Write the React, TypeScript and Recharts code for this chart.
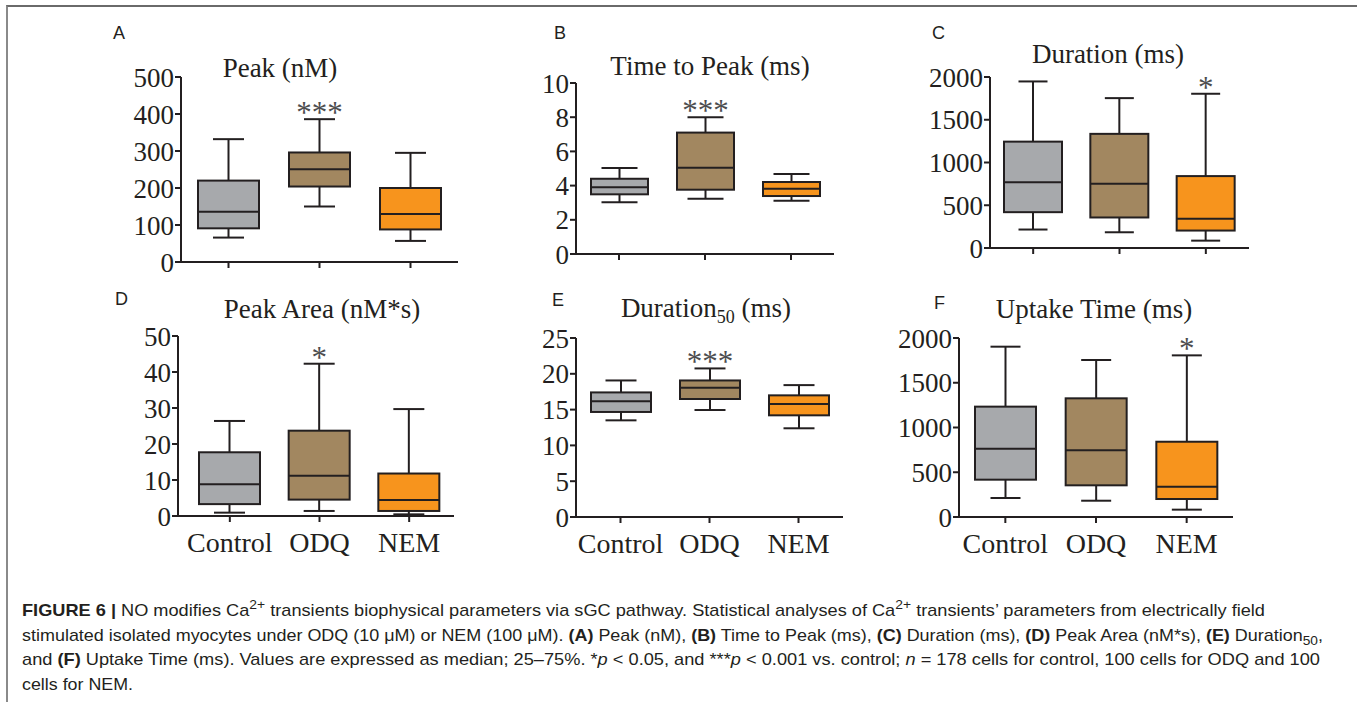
import { BarChart, Bar, XAxis, YAxis } from 'recharts';

const categories = ['Control', 'ODQ', 'NEM'];

// five-number summaries per group: [min, q1, median, q3, max]
const peakStats = [[66, 91, 136, 220, 332], [150, 204, 251, 296, 386], [57, 88, 130, 200, 295]];
const timeToPeakStats = [[3.03, 3.49, 3.91, 4.4, 5.03], [3.23, 3.76, 5.05, 7.1, 8.0], [3.11, 3.39, 3.82, 4.21, 4.68]];
const durationStats = [[216, 419, 768, 1244, 1948], [184, 357, 751, 1335, 1753], [86, 204, 341, 841, 1804]];
const peakAreaStats = [[0.93, 3.3, 8.8, 17.7, 26.4], [1.4, 4.55, 11.2, 23.7, 42.3], [0.46, 1.4, 4.45, 11.8, 29.7]];
const duration50Stats = [[13.5, 14.67, 16.15, 17.4, 19.07], [14.94, 16.48, 18.05, 19.07, 20.75], [12.39, 14.2, 15.78, 16.99, 18.42]];
const uptakeStats = [[212, 417, 763, 1233, 1903], [182, 354, 745, 1326, 1754], [82, 201, 339, 841, 1806]];

const peakSig = ['', '***', ''];
const timeToPeakSig = ['', '***', ''];
const durationSig = ['', '', '*'];
const peakAreaSig = ['', '*', ''];
const duration50Sig = ['', '***', ''];
const uptakeSig = ['', '', '*'];

const peakTicks = [0, 100, 200, 300, 400, 500];
const timeToPeakTicks = [0, 2, 4, 6, 8, 10];
const durationTicks = [0, 500, 1000, 1500, 2000];
const peakAreaTicks = [0, 10, 20, 30, 40, 50];
const duration50Ticks = [0, 5, 10, 15, 20, 25];
const uptakeTicks = [0, 500, 1000, 1500, 2000];

const boxColors = ['#A7A9AC', '#A28760', '#F7941D'];
const ink = '#231f20';
const serif = '"Liberation Serif", "Times New Roman", serif';
const sans = '"Liberation Sans", Arial, Helvetica, sans-serif';

const Y_W = 70;
const M_TOP = 20;

const buildRows = (stats: number[][], sig: string[]) =>
  categories.map((name, i) => ({
    name,
    range: [stats[i][0], stats[i][4]],
    stats: stats[i],
    sig: sig[i],
    color: boxColors[i],
  }));

function BoxShape(props: any) {
  const { x, y, width, height, payload, capWidth } = props;
  const [min, q1, median, q3, max] = payload.stats;
  // bar spans min..max on the y scale, interpolate the inner stats
  const py = (v: number) => y + (height * (max - v)) / (max - min);
  const cx = x + width / 2;
  const h = capWidth / 2;
  return (
    <g>
      <line x1={cx} x2={cx} y1={py(max)} y2={py(min)} stroke={ink} strokeWidth={2} />
      <line x1={cx - h} x2={cx + h} y1={py(max)} y2={py(max)} stroke={ink} strokeWidth={2} />
      <line x1={cx - h} x2={cx + h} y1={py(min)} y2={py(min)} stroke={ink} strokeWidth={2} />
      <rect x={x} y={py(q3)} width={width} height={py(q1) - py(q3)} fill={payload.color} stroke={ink} strokeWidth={2} />
      <line x1={x} x2={x + width} y1={py(median)} y2={py(median)} stroke={ink} strokeWidth={2} />
      {payload.sig ? (
        <text x={cx} y={py(max) + 4} textAnchor="middle" fontFamily={serif} fontSize={31} fill="#4d4d4f">
          {payload.sig}
        </text>
      ) : null}
    </g>
  );
}

type PanelProps = {
  stats: number[][];
  sig: string[];
  ticks: number[];
  axisX: number;
  plotTop: number;
  plotW: number;
  plotH: number;
  padL: number;
  padR: number;
  boxW: number;
  capW: number;
  labels: boolean;
};

function Panel(p: PanelProps) {
  const xh = p.labels ? 50 : 22;
  const w = Y_W + p.plotW + 10;
  const h = M_TOP + p.plotH + xh;
  const data = buildRows(p.stats, p.sig);
  return (
    <div style={{ position: 'absolute', left: p.axisX - Y_W, top: p.plotTop - M_TOP }}>
      <BarChart width={w} height={h} data={data} margin={{ top: M_TOP, right: 10, left: 0, bottom: 0 }}>
        <XAxis
          dataKey="name"
          type="category"
          height={xh}
          interval={0}
          padding={{ left: p.padL, right: p.padR }}
          tickSize={6}
          tickMargin={10}
          axisLine={{ stroke: ink, strokeWidth: 2 }}
          tickLine={{ stroke: ink, strokeWidth: 2 }}
          tick={{ fill: ink, fontSize: 28, fontFamily: serif }}
          tickFormatter={p.labels ? undefined : () => ''}
        />
        <YAxis
          type="number"
          width={Y_W}
          domain={[0, p.ticks[p.ticks.length - 1]]}
          ticks={p.ticks}
          interval={0}
          tickSize={6}
          tickMargin={1}
          axisLine={{ stroke: ink, strokeWidth: 2 }}
          tickLine={{ stroke: ink, strokeWidth: 2 }}
          tick={{ fill: ink, fontSize: 27, fontFamily: serif }}
        />
        <Bar
          dataKey="range"
          isAnimationActive={false}
          barSize={p.boxW}
          shape={(s: any) => <BoxShape {...s} capWidth={p.capW} />}
        />
      </BarChart>
    </div>
  );
}

type Seg = { t: string; b?: boolean; i?: boolean; sup?: boolean; sub?: boolean };

const captionLines: Seg[][] = [
  [
    { t: 'FIGURE 6 |', b: true },
    { t: ' NO modifies Ca' },
    { t: '2+', sup: true },
    { t: ' transients biophysical parameters via sGC pathway. Statistical analyses of Ca' },
    { t: '2+', sup: true },
    { t: ' transients\u2019 parameters from electrically field' },
  ],
  [
    { t: 'stimulated isolated myocytes under ODQ (10 \u03bcM) or NEM (100 \u03bcM). ' },
    { t: '(A)', b: true },
    { t: ' Peak (nM), ' },
    { t: '(B)', b: true },
    { t: ' Time to Peak (ms), ' },
    { t: '(C)', b: true },
    { t: ' Duration (ms), ' },
    { t: '(D)', b: true },
    { t: ' Peak Area (nM*s), ' },
    { t: '(E)', b: true },
    { t: ' Duration' },
    { t: '50', sub: true },
    { t: ',' },
  ],
  [
    { t: 'and ' },
    { t: '(F)', b: true },
    { t: ' Uptake Time (ms). Values are expressed as median; 25\u201375%. *' },
    { t: 'p', i: true },
    { t: ' < 0.05, and ***' },
    { t: 'p', i: true },
    { t: ' < 0.001 vs. control; ' },
    { t: 'n', i: true },
    { t: ' = 178 cells for control, 100 cells for ODQ and 100' },
  ],
  [{ t: 'cells for NEM.' }],
];
const captionBaselines = [616, 640.5, 665, 689.5];
const captionWidths = [1243, 1301, 1298, 111];

function CaptionLine({ segs, y, len }: { segs: Seg[]; y: number; len: number }) {
  let shift = 0;
  return (
    <text x={22} y={y} fontFamily={sans} fontSize={17} fill={ink} textLength={len} lengthAdjust="spacingAndGlyphs">
      {segs.map((s, k) => {
        const target = s.sup ? -7 : s.sub ? 4 : 0;
        const dy = target - shift;
        shift = target;
        return (
          <tspan
            key={k}
            dy={dy}
            fontWeight={s.b ? 'bold' : undefined}
            fontStyle={s.i ? 'italic' : undefined}
            fontSize={s.sup || s.sub ? 13 : undefined}
          >
            {s.t}
          </tspan>
        );
      })}
    </text>
  );
}

const titles = [
  { t: 'Peak (nM)', x: 280, y: 77 },
  { t: 'Time to Peak (ms)', x: 710, y: 75 },
  { t: 'Duration (ms)', x: 1108, y: 63 },
  { t: 'Peak Area (nM*s)', x: 322, y: 318 },
  { t: 'Uptake Time (ms)', x: 1094, y: 318 },
];
const letters = [
  { t: 'A', x: 113, y: 39 },
  { t: 'B', x: 554, y: 39 },
  { t: 'C', x: 932, y: 39 },
  { t: 'D', x: 115, y: 305 },
  { t: 'E', x: 552, y: 306 },
  { t: 'F', x: 934, y: 309 },
];

export default function App() {
  return (
    <div style={{ position: 'absolute', left: 0, top: 0, width: 1357, height: 702, background: '#fff', overflow: 'hidden' }}>
      <div
        style={{
          position: 'absolute',
          left: 6,
          top: 5,
          width: 1349,
          height: 720,
          borderTop: '2px solid #6a6a6a',
          borderLeft: '2px solid #8a8a8a',
          borderRight: '2px solid #8a8a8a',
        }}
      />
      <svg width={1357} height={702} style={{ position: 'absolute', left: 0, top: 0 }}>
        {titles.map((d) => (
          <text key={d.t} x={d.x} y={d.y} textAnchor="middle" fontFamily={serif} fontSize={27} fill={ink}>
            {d.t}
          </text>
        ))}
        <text x={706} y={317} textAnchor="middle" fontFamily={serif} fontSize={27} fill={ink}>
          <tspan>Duration</tspan>
          <tspan fontSize={18} dy={6}>50</tspan>
          <tspan dy={-6}> (ms)</tspan>
        </text>
        {letters.map((d) => (
          <text key={d.t} x={d.x} y={d.y} fontFamily={sans} fontSize={18} fill={ink}>
            {d.t}
          </text>
        ))}
        {captionLines.map((segs, k) => (
          <CaptionLine key={k} segs={segs} y={captionBaselines[k]} len={captionWidths[k]} />
        ))}
      </svg>
      <Panel stats={peakStats} sig={peakSig} ticks={peakTicks} axisX={181} plotTop={77} plotW={277} plotH={185} padL={2} padR={2} boxW={61} capW={31} labels={false} />
      <Panel stats={timeToPeakStats} sig={timeToPeakSig} ticks={timeToPeakTicks} axisX={576} plotTop={83} plotW={258} plotH={171} padL={0} padR={0} boxW={57} capW={36} labels={false} />
      <Panel stats={durationStats} sig={durationSig} ticks={durationTicks} axisX={990} plotTop={77} plotW={259} plotH={171} padL={0} padR={0} boxW={58} capW={29} labels={false} />
      <Panel stats={peakAreaStats} sig={peakAreaSig} ticks={peakAreaTicks} axisX={178} plotTop={336} plotW={276} plotH={180} padL={7} padR={0} boxW={61} capW={31} labels={true} />
      <Panel stats={duration50Stats} sig={duration50Sig} ticks={duration50Ticks} axisX={576} plotTop={338} plotW={267} plotH={179} padL={0} padR={0} boxW={60} capW={31} labels={true} />
      <Panel stats={uptakeStats} sig={uptakeSig} ticks={uptakeTicks} axisX={959} plotTop={338} plotW={274} plotH={179} padL={1} padR={1} boxW={61} capW={30} labels={true} />
    </div>
  );
}
